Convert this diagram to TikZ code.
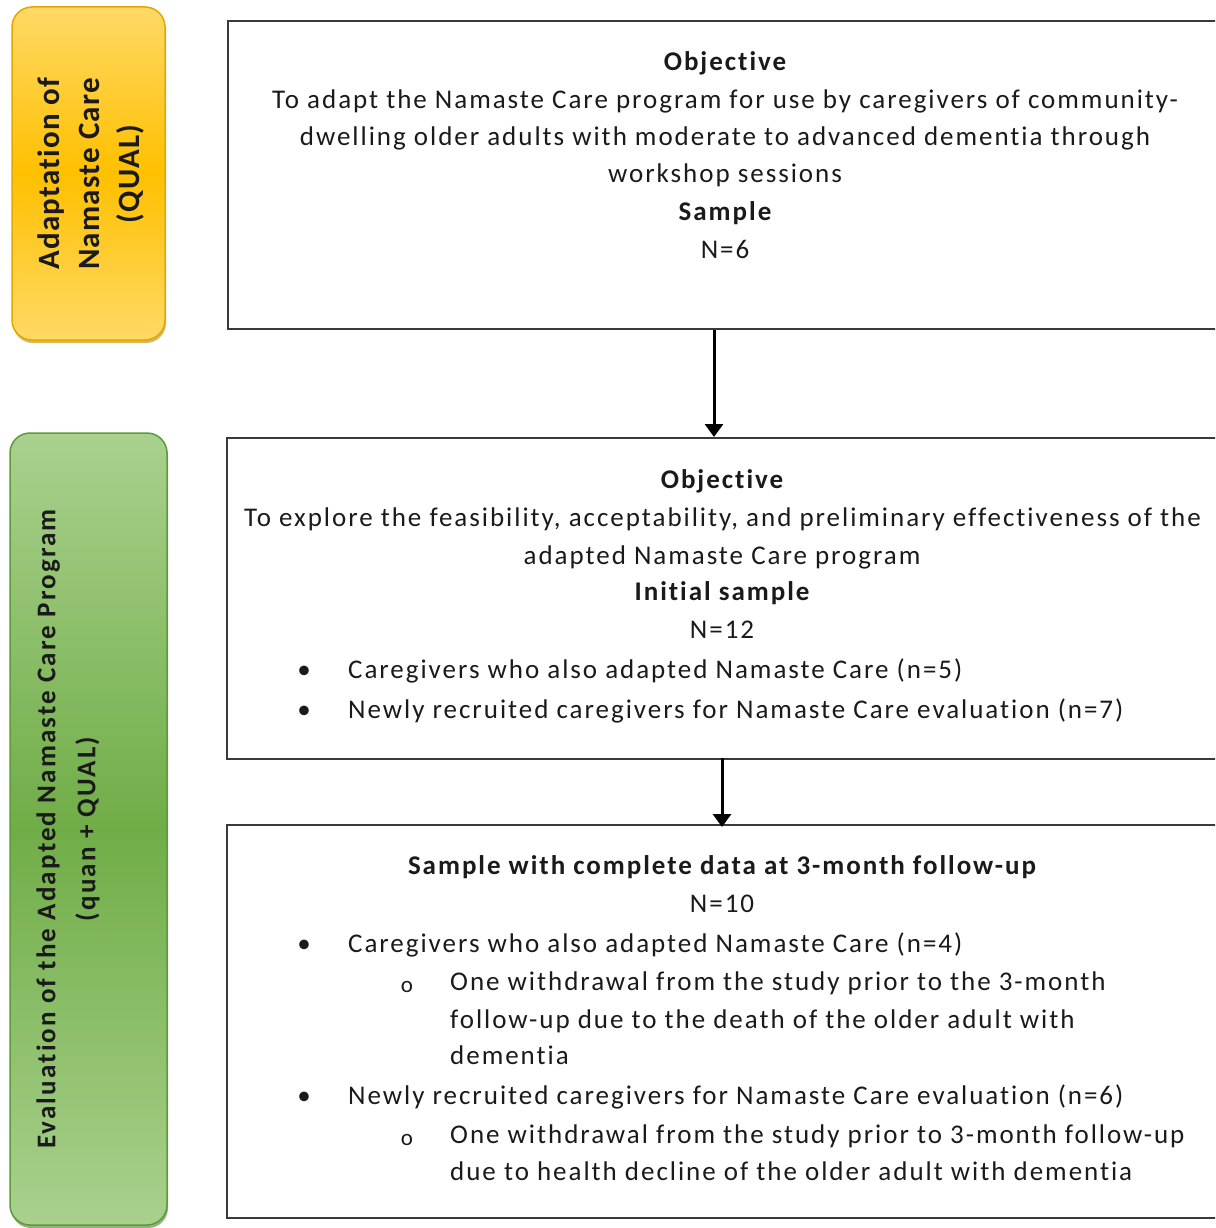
\documentclass[tikz,border=0pt]{standalone}
\usepackage{fontspec}
\setmainfont{Carlito}
\newfontfamily\spaced[LetterSpace=7.3,Ligatures=NoCommon]{Carlito}
\newfontfamily\sidefont[LetterSpace=4,Ligatures=NoCommon]{Carlito}
\newfontfamily\greenfont[LetterSpace=8,Ligatures=NoCommon]{Carlito}
\usetikzlibrary{arrows.meta,shadows}
\definecolor{txt}{HTML}{1A1A1A}
\definecolor{frame}{HTML}{3A3A3A}
\definecolor{ylight}{HTML}{FFD966}
\definecolor{ydark}{HTML}{FFC000}
\definecolor{yedge}{HTML}{E3A800}
\definecolor{glight}{HTML}{A9D18E}
\definecolor{gdark}{HTML}{70AD47}
\definecolor{gedge}{HTML}{5E9A38}
\tikzset{
  body/.style={font=\spaced\fontsize{27}{33}\selectfont, text=txt, inner sep=0pt, yshift=-7pt},
  ctr/.style={body, anchor=mid},
  lft/.style={body, anchor=mid west},
  hd/.style={ctr, font=\spaced\fontsize{27}{33}\selectfont\bfseries},
  subb/.style={ctr, font=\fontsize{23}{26}\selectfont},
  framebox/.style={draw=frame, line width=2pt, inner sep=0pt},
  arr/.style={draw=black, line width=3pt, -{Triangle[length=13pt,width=18pt]}},
  phase/.style={rounded corners=20pt, inner sep=0pt, line width=1.5pt}
}
\begin{document}
\begin{tikzpicture}[x=1pt,y=-1pt]
\useasboundingbox (0,0) rectangle (1215,1228);
\clip (0,0) rectangle (1215,1228);
% phase bars
\node[phase, draw=yedge, top color=ylight, bottom color=ylight, middle color=ydark,
      drop shadow={shadow xshift=1pt, shadow yshift=-3pt, fill=yedge!80!black, opacity=0.6},
      minimum width=153pt, minimum height=333pt] (p1) at (88.5,173.5) {};
\node[rotate=90, align=center, font=\sidefont\fontsize{31}{40}\selectfont\bfseries, text=txt] (p1t) at (91,174)
  {Adaptation of\\ Namaste Care\\ (QUAL)};
\node[phase, draw=gedge, top color=glight, bottom color=glight, middle color=gdark,
      drop shadow={shadow xshift=1pt, shadow yshift=-3pt, fill=gedge!80!black, opacity=0.6},
      minimum width=157pt, minimum height=792pt] (p2) at (88.5,829) {};
\node[rotate=90, align=center, font=\greenfont\fontsize{27}{40}\selectfont\bfseries, text=txt] (p2t) at (68,829)
  {Evaluation of the Adapted Namaste Care Program\\ (quan + QUAL)};
% boxes
\node[framebox, minimum width=994pt, minimum height=308pt] (b1) at (725,175) {};
\node[framebox, minimum width=995pt, minimum height=321pt] (b2) at (724.5,598.5) {};
\node[framebox, minimum width=995pt, minimum height=393pt] (b3) at (724.5,1021.5) {};
% arrows
\draw[arr] ([xshift=-11pt]b1.south) -- ([xshift=-11pt]b1.south |- b2.north);
\draw[arr] ([xshift=-2.5pt,yshift=2pt]b2.south) -- ([xshift=-2.5pt,yshift=-3pt]b2.south |- b3.north);
% box 1 text
\node[hd] (t11) at (725,61) {Objective};
\node[ctr] (t12) at (725,99) {To adapt the Namaste Care program for use by caregivers of community-};
\node[ctr] (t13) at (725,136) {dwelling older adults with moderate to advanced dementia through};
\node[ctr] (t14) at (725,173) {workshop sessions};
\node[hd] (t15) at (725,211) {Sample};
\node[ctr] (t16) at (725,249) {N=6};
% box 2 text
\node[hd] (t21) at (722,479) {Objective};
\node[ctr] (t22) at (722.5,517) {To explore the feasibility, acceptability, and preliminary effectiveness of the};
\node[ctr] (t23) at (722,555) {adapted Namaste Care program};
\node[hd] (t24) at (722,591) {Initial sample};
\node[ctr] (t25) at (722,629) {N=12};
\node[ctr] (t26b) at (304,669) {•};
\node[lft] (t26) at (348,669) {Caregivers who also adapted Namaste Care (n=5)};
\node[ctr] (t27b) at (304,709) {•};
\node[lft] (t27) at (348,709) {Newly recruited caregivers for Namaste Care evaluation (n=7)};
% box 3 text
\node[hd] (t31) at (722,865) {Sample with complete data at 3-month follow-up};
\node[ctr] (t32) at (722,903) {N=10};
\node[ctr] (t33b) at (304,943) {•};
\node[lft] (t33) at (348,943) {Caregivers who also adapted Namaste Care (n=4)};
\node[subb] (t34b) at (407,983) {o};
\node[lft] (t34) at (450,981) {One withdrawal from the study prior to the 3-month};
\node[lft] (t35) at (450,1019) {follow-up due to the death of the older adult with};
\node[lft] (t36) at (450,1055) {dementia};
\node[ctr] (t37b) at (304,1095) {•};
\node[lft] (t37) at (348,1095) {Newly recruited caregivers for Namaste Care evaluation (n=6)};
\node[subb] (t38b) at (407,1136) {o};
\node[lft] (t38) at (450,1134) {One withdrawal from the study prior to 3-month follow-up};
\node[lft] (t39) at (450,1171) {due to health decline of the older adult with dementia};
\end{tikzpicture}
\end{document}
